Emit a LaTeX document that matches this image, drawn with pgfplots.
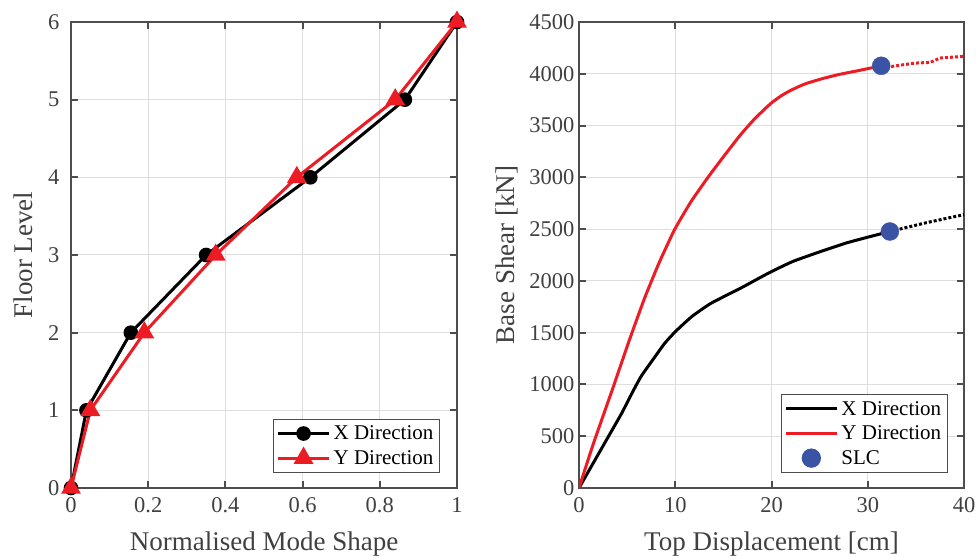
\documentclass[border=0pt]{standalone}
\usepackage{pgfplots}
\pgfplotsset{compat=1.18}
\usepackage{fontspec}
\setmainfont{Liberation Serif}
\newfontfamily\tickfont{Liberation Serif}
\definecolor{axgray}{RGB}{77,77,77}
\definecolor{txgray}{RGB}{64,64,64}
\definecolor{myred}{RGB}{237,28,36}
\definecolor{myblue}{RGB}{58,83,164}
\newcommand{\tl}[1]{\textrm{\tickfont #1}}
\pgfplotsset{
  common/.style={
    width=386pt, height=466pt, scale only axis,
    axis line style={draw=axgray, line width=2pt},
    grid=major, major grid style={black!13, line width=1pt},
    tick style={axgray, line width=2pt}, tick align=inside, major tick length=7pt,
    xtick pos=both, ytick pos=both,
    tick label style={text=txgray, font=\tickfont\fontsize{22.5}{26}\selectfont},
    xticklabel style={yshift=-6pt},
    label style={text=txgray, font=\rmfamily\fontsize{27}{30}\selectfont},
    xlabel style={at={(axis description cs:0.5,-0.12)}, anchor=center},
    legend style={font=\rmfamily\fontsize{21}{24}\selectfont, draw=axgray, line width=1.3pt, fill=white,
      inner xsep=3pt, inner ysep=2pt, nodes={inner ysep=4.6pt, inner xsep=3pt}},
    legend cell align=left,
    legend image code/.code={\draw[##1] (0cm,0cm) -- (1.8cm,0cm);},
  },
  markimg/.style={legend image code/.code={\draw[##1] (0cm,0cm) -- (1.8cm,0cm); \draw[##1, mark repeat=1] plot coordinates {(0.9cm,0cm)};}},
  slcimg/.style={legend image code/.code={\draw[##1, mark repeat=1] plot coordinates {(0.9cm,0cm)};}},
}
\begin{document}
\begin{tikzpicture}
\begin{axis}[common, at={(71pt,68pt)}, anchor=south west,
  xmin=0, xmax=1, ymin=0, ymax=6,
  xtick={0,0.2,0.4,0.6,0.8,1}, xticklabels={\tl{0},\tl{0.2},\tl{0.4},\tl{0.6},\tl{0.8},\tl{1}},
  ytick={0,1,2,3,4,5,6}, yticklabels={\tl{0},\tl{1},\tl{2},\tl{3},\tl{4},\tl{5},\tl{6}},
  yticklabel style={xshift=-8pt},
  xlabel={Normalised Mode Shape}, ylabel={Floor Level},
  ylabel style={at={(axis description cs:-0.124,0.5)}, anchor=center},
  legend style={at={(0.956,0.032)}, anchor=south east},
]
\addplot[black, line width=3pt, mark=*, mark size=5.8pt, mark options={solid}, markimg] coordinates {
(0,0) (0.04,1) (0.155,2) (0.35,3) (0.62,4) (0.865,5) (1,6)};
\addlegendentry{X Direction}
\addplot[myred, line width=3pt, mark=triangle*, mark size=8.5pt, markimg] coordinates {
(0,0) (0.05,1) (0.19,2) (0.375,3) (0.585,4) (0.84,5) (1,6)};
\addlegendentry{Y Direction}
\end{axis}
\begin{axis}[common, at={(579pt,68pt)}, anchor=south west, width=385pt,
  xmin=0, xmax=40, ymin=0, ymax=4500,
  xtick={0,10,20,30,40}, xticklabels={\tl{0},\tl{10},\tl{20},\tl{30},\tl{40}},
  ytick={0,500,...,4500}, yticklabels={\tl{0},\tl{500},\tl{1000},\tl{1500},\tl{2000},\tl{2500},\tl{3000},\tl{3500},\tl{4000},\tl{4500}},
  yticklabel style={xshift=-1pt},
  xlabel={Top Displacement [cm]}, ylabel={Base Shear [kN]},
  ylabel style={at={(axis description cs:-0.187,0.5)}, anchor=center},
  legend style={at={(0.958,0.032)}, anchor=south east},
]
\addplot[black, line width=3pt, smooth, tension=0.3] coordinates {
(0,0) (1.66,270) (3.05,496) (4.43,721) (5.64,940) (6.5,1085) (7.9,1268) (8.9,1397) (10,1509) (11.7,1654) (13.7,1783) (16.9,1935) (18.7,2026) (20,2090) (22.2,2187) (24.9,2277) (27.7,2364) (30,2422) (32.3,2477)};
\addlegendentry{X Direction}
\addplot[myred, line width=3pt, smooth, tension=0.3] coordinates {
(0,0) (1.5,430) (3.5,960) (5.2,1420) (6.8,1830) (8.3,2170) (9.9,2490) (11.6,2760) (13.4,3000) (15.1,3210) (16.73,3405) (18.1,3550) (19.3,3660) (20.08,3725) (21,3787) (21.9,3835) (22.8,3875) (23.66,3908) (25.4,3956) (27.1,3995) (29,4030) (31.4,4077)};
\addlegendentry{Y Direction}
\addplot[only marks, mark=*, mark size=9pt, color=myblue, slcimg] coordinates {(31.4,4077) (32.3,2477)};
\addlegendentry{SLC}
\addplot[black, line width=3pt, dotted, forget plot] coordinates {
(32.3,2477) (36,2560) (39.9,2638) (40,2640)};
\addplot[myred, line width=3pt, dotted, forget plot] coordinates {
(31.4,4077) (32.5,4071) (34.9,4103) (36.5,4110) (37.5,4152) (40,4168)};
\end{axis}
\pgfresetboundingbox
\path[use as bounding box] (0,0) rectangle (979pt,556pt);
\end{tikzpicture}
\end{document}
